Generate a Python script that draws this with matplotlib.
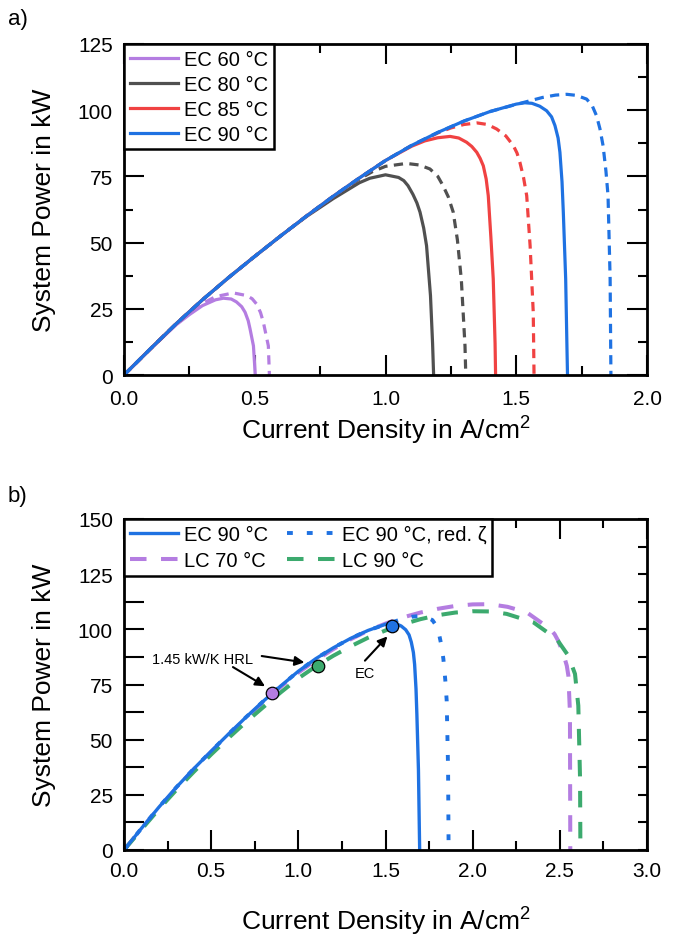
import matplotlib
matplotlib.use("Agg")
import matplotlib.pyplot as plt
from matplotlib.ticker import MultipleLocator

plt.rcParams['font.family'] = ['Liberation Sans', 'DejaVu Sans']
plt.rcParams['mathtext.fontset'] = 'custom'
plt.rcParams['mathtext.rm'] = 'Liberation Sans'
plt.rcParams['mathtext.it'] = 'Liberation Sans:italic'

# ---------------- data: panel a ----------------
ec60_x = [0, 0.1, 0.2, 0.25, 0.3, 0.35, 0.38, 0.41, 0.43, 0.45, 0.463, 0.475, 0.482, 0.495, 0.502]
ec60_y = [0, 9.7, 19.0, 22.8, 26.2, 28.4, 29.0, 28.7, 27.6, 25.8, 23.7, 20.5, 17.4, 11.0, 0]
ec60r_x = [0, 0.1, 0.2, 0.25, 0.3, 0.35, 0.418, 0.469, 0.49, 0.507, 0.522, 0.533, 0.552, 0.556]
ec60r_y = [0, 9.8, 19.3, 23.5, 27.0, 29.6, 31.0, 30.0, 28.8, 26.8, 23.6, 19.9, 11.0, 0]

ec80_x = [0, 0.1, 0.2, 0.3, 0.4, 0.5, 0.6, 0.7, 0.8, 0.9, 0.94, 1.0, 1.05, 1.07, 1.086, 1.105, 1.12, 1.132, 1.146, 1.157, 1.172, 1.18, 1.184]
ec80_y = [0, 9.8, 19.4, 28.4, 36.8, 44.8, 52.6, 60.0, 66.6, 72.6, 74.3, 75.6, 74.6, 73.4, 71.5, 68.2, 65.0, 61.5, 55.5, 48.8, 30.0, 12.0, 0]
ec80r_x = [0, 0.1, 0.2, 0.3, 0.4, 0.5, 0.6, 0.7, 0.8, 0.9, 0.95, 1.0, 1.08, 1.13, 1.17, 1.2, 1.22, 1.24, 1.259, 1.275, 1.29, 1.304, 1.307]
ec80r_y = [0, 9.8, 19.4, 28.4, 36.8, 44.8, 52.6, 60.2, 67.4, 74.0, 76.8, 78.8, 79.9, 79.3, 77.8, 75.0, 71.5, 67.3, 61.5, 51.0, 36.0, 11.0, 0]

ec85_x = [0, 0.1, 0.2, 0.3, 0.4, 0.5, 0.6, 0.7, 0.8, 0.9, 1.0, 1.1, 1.15, 1.2, 1.247, 1.28, 1.31, 1.33, 1.349, 1.362, 1.374, 1.385, 1.393, 1.403, 1.412, 1.419, 1.421]
ec85_y = [0, 9.8, 19.4, 28.4, 36.8, 44.8, 52.6, 60.2, 67.5, 74.4, 81.0, 86.4, 88.4, 89.6, 90.1, 89.5, 87.9, 86.3, 84.1, 81.8, 79.0, 74.0, 67.7, 52.0, 36.3, 12.0, 0]
ec85r_x = [0, 0.1, 0.2, 0.3, 0.4, 0.5, 0.6, 0.7, 0.8, 0.9, 1.0, 1.1, 1.2, 1.25, 1.3, 1.35, 1.39, 1.425, 1.46, 1.489, 1.503, 1.514, 1.528, 1.54, 1.553, 1.565, 1.568]
ec85r_y = [0, 9.8, 19.4, 28.4, 36.8, 44.8, 52.6, 60.2, 67.5, 74.4, 81.0, 86.7, 91.4, 93.3, 94.6, 95.2, 94.6, 92.9, 90.3, 86.6, 83.8, 80.3, 74.5, 67.7, 48.8, 23.7, 0]

ec90_x = [0, 0.1, 0.2, 0.3, 0.4, 0.5, 0.6, 0.7, 0.8, 0.9, 1.0, 1.1, 1.2, 1.3, 1.4, 1.5, 1.533, 1.56, 1.59, 1.616, 1.635, 1.648, 1.66, 1.667, 1.675, 1.68, 1.689, 1.694, 1.696]
ec90_y = [0, 9.8, 19.4, 28.4, 36.8, 44.8, 52.6, 60.2, 67.5, 74.4, 81.0, 86.7, 91.6, 95.9, 99.5, 102.3, 102.8, 102.6, 101.5, 99.8, 97.5, 94.2, 89.5, 84.1, 73.0, 61.4, 36.3, 10.0, 0]
ec90r_x = [0, 0.1, 0.2, 0.3, 0.4, 0.5, 0.6, 0.7, 0.8, 0.9, 1.0, 1.1, 1.2, 1.3, 1.4, 1.5, 1.6, 1.65, 1.693, 1.73, 1.769, 1.79, 1.807, 1.82, 1.832, 1.843, 1.851, 1.859, 1.862]
ec90r_y = [0, 9.8, 19.4, 28.4, 36.8, 44.8, 52.6, 60.2, 67.5, 74.4, 81.0, 86.7, 91.6, 95.9, 99.5, 102.2, 104.8, 105.7, 106.0, 105.6, 104.2, 101.8, 97.9, 93.0, 86.6, 77.0, 67.7, 36.3, 0]

# ---------------- data: panel b ----------------
lc70_x = [0, 0.1, 0.2, 0.3, 0.4, 0.5, 0.6, 0.7, 0.8, 0.9, 1.0, 1.1, 1.2, 1.3, 1.4, 1.5, 1.6, 1.7, 1.8, 1.9, 2.0, 2.1, 2.2, 2.31, 2.444, 2.47, 2.49, 2.52, 2.54, 2.549, 2.558, 2.56]
lc70_y = [0, 9.6, 19.0, 28.0, 36.5, 44.5, 52.2, 59.8, 67.2, 74.0, 80.4, 86.0, 91.0, 95.5, 99.4, 102.6, 105.4, 107.6, 109.3, 110.6, 111.3, 111.4, 110.2, 107.7, 100.2, 97.8, 94.9, 89.0, 83.5, 79.0, 62.4, 0]
lc90_x = [0, 0.1, 0.2, 0.3, 0.4, 0.5, 0.6, 0.7, 0.8, 0.9, 1.0, 1.1, 1.2, 1.3, 1.4, 1.5, 1.6, 1.7, 1.8, 1.9, 2.0, 2.1, 2.195, 2.348, 2.482, 2.549, 2.587, 2.606, 2.616, 2.618]
lc90_y = [0, 9.3, 18.5, 27.2, 35.4, 43.3, 50.8, 58.0, 64.8, 71.5, 77.8, 83.2, 88.0, 92.3, 96.2, 99.5, 102.3, 104.6, 106.4, 107.6, 108.2, 108.1, 107.0, 103.2, 95.6, 88.0, 79.8, 65.4, 32.2, 0]

# marked operating points (current density, power)
pt_lc70 = (0.851, 71.1)
pt_lc90 = (1.111, 83.5)
pt_ec = (1.536, 101.7)

a_xticks = [0.0, 0.5, 1.0, 1.5, 2.0]
a_yticks = [0, 25, 50, 75, 100, 125]
b_xticks = [0.0, 0.5, 1.0, 1.5, 2.0, 2.5, 3.0]
b_yticks = [0, 25, 50, 75, 100, 125, 150]

C_PURPLE = '#B47DE1'
C_GRAY = '#505050'
C_RED = '#F04242'
C_BLUE = '#1F72E2'
C_GREEN = '#3CAA6E'

fig = plt.figure(figsize=(6.73, 9.45), dpi=100)
L, W, H = 124 / 673, 523 / 673, 331 / 945
axa = fig.add_axes([L, 1 - 376 / 945, W, H])
axb = fig.add_axes([L, 1 - 851 / 945, W, H])

TICK_FS = 15
LAB_FS = 19
LEG_FS = 14.5
MAJ = 14.4
MIN = 6.8

def style(ax):
    for s in ax.spines.values():
        s.set_linewidth(2.0)
    ax.tick_params(which='both', direction='in', top=True, right=True, width=1.5,
                   labelsize=TICK_FS)
    ax.tick_params(which='major', length=MAJ)
    ax.tick_params(which='minor', length=MIN)

# ---------- panel a ----------
dash_a = (2.9, 2.0)
lw_a = 2.3
series_a = [(ec60_x, ec60_y, ec60r_x, ec60r_y, C_PURPLE, 'EC 60 °C'),
            (ec80_x, ec80_y, ec80r_x, ec80r_y, C_GRAY, 'EC 80 °C'),
            (ec85_x, ec85_y, ec85r_x, ec85r_y, C_RED, 'EC 85 °C'),
            (ec90_x, ec90_y, ec90r_x, ec90r_y, C_BLUE, 'EC 90 °C')]
handles_a = []
for sx, sy, rx, ry, c, lab in series_a:
    axa.plot(rx, ry, color=c, lw=lw_a, dashes=dash_a)
    h, = axa.plot(sx, sy, color=c, lw=lw_a, label=lab)
    handles_a.append(h)

axa.set_xlim(0, 2.0)
axa.set_ylim(0, 125)
axa.set_xticks(a_xticks)
axa.set_xticklabels([f'{v:.1f}' for v in a_xticks])
axa.set_yticks(a_yticks)
axa.xaxis.set_minor_locator(MultipleLocator(0.25))
axa.yaxis.set_minor_locator(MultipleLocator(12.5))
style(axa)
axa.tick_params(axis='x', which='both', pad=10)
axa.tick_params(axis='y', which='both', pad=8)
axa.set_xlabel(r'Current Density in A/cm$^{\mathregular{2}}$', fontsize=LAB_FS)
axa.set_ylabel('System Power in kW', fontsize=LAB_FS)
axa.xaxis.set_label_coords(0.5, -0.118)
axa.yaxis.set_label_coords(-0.13, 0.5)

lega = axa.legend(handles=handles_a, loc='upper left', bbox_to_anchor=(0, 1),
                  borderaxespad=0, fontsize=LEG_FS, frameon=True, fancybox=False,
                  edgecolor='black', framealpha=1, handlelength=2.4,
                  handletextpad=0.3, labelspacing=0.3, borderpad=0.28)
lega.get_frame().set_linewidth(1.8)

# ---------- panel b ----------
l70, = axb.plot(lc70_x, lc70_y, color=C_PURPLE, lw=2.9, dashes=(4.1, 3.6), label='LC 70 °C')
l90, = axb.plot(lc90_x, lc90_y, color=C_GREEN, lw=2.9, dashes=(4.1, 3.6), label='LC 90 °C')
lr, = axb.plot(ec90r_x, ec90r_y, color=C_BLUE, lw=2.8, dashes=(1.5, 3.6), label='EC 90 °C, red. ζ')
le, = axb.plot(ec90_x, ec90_y, color=C_BLUE, lw=2.4, label='EC 90 °C')

axb.plot([pt_lc70[0]], [pt_lc70[1]], 'o', ms=9, mfc=C_PURPLE, mec='black', mew=0.9, zorder=5)
axb.plot([pt_lc90[0]], [pt_lc90[1]], 'o', ms=9, mfc=C_GREEN, mec='black', mew=0.9, zorder=5)
axb.plot([pt_ec[0]], [pt_ec[1]], 'o', ms=9, mfc=C_BLUE, mec='black', mew=0.9, zorder=5)

arrow = dict(arrowstyle='-|>', color='black', lw=1.5, mutation_scale=14, shrinkA=0, shrinkB=0)
axb.text(0.45, 86.6, '1.45 kW/K HRL', fontsize=10.5, ha='center', va='center')
axb.annotate('', xy=(1.035, 85.0), xytext=(0.79, 87.9), arrowprops=arrow)
axb.annotate('', xy=(0.809, 74.2), xytext=(0.625, 82.9), arrowprops=arrow)
axb.text(1.382, 80.2, 'EC', fontsize=10.5, ha='center', va='center')
axb.annotate('', xy=(1.511, 96.8), xytext=(1.382, 85.8), arrowprops=arrow)

axb.set_xlim(0, 3.0)
axb.set_ylim(0, 150)
axb.set_xticks(b_xticks)
axb.set_xticklabels([f'{v:.1f}' for v in b_xticks])
axb.set_yticks(b_yticks)
axb.xaxis.set_minor_locator(MultipleLocator(0.25))
axb.yaxis.set_minor_locator(MultipleLocator(12.5))
style(axb)
axb.tick_params(axis='x', which='both', pad=8)
axb.tick_params(axis='y', which='both', pad=8)
axb.tick_params(axis='y', which='minor', length=MAJ)

twin = axb.twinx()
twin.set_ylim(0, 150)
twin.set_yticks(b_yticks)
twin.yaxis.set_minor_locator(MultipleLocator(12.5))
twin.tick_params(axis='y', which='both', direction='in', length=MIN, width=1.5,
                 labelright=False, right=True, left=False)
for s in twin.spines.values():
    s.set_visible(False)
axb.tick_params(axis='y', which='both', left=True, right=False)

axb.set_xlabel(r'Current Density in A/cm$^{\mathregular{2}}$', fontsize=LAB_FS)
axb.set_ylabel('System Power in kW', fontsize=LAB_FS)
axb.xaxis.set_label_coords(0.5, -0.165)
axb.yaxis.set_label_coords(-0.13, 0.5)

legb = axb.legend(handles=[le, l70, lr, l90], ncol=2, loc='upper left',
                  bbox_to_anchor=(0, 1), borderaxespad=0, fontsize=LEG_FS, frameon=True,
                  fancybox=False, edgecolor='black', framealpha=1, handlelength=2.4,
                  handletextpad=0.3, labelspacing=0.38, borderpad=0.28, columnspacing=0.95)
legb.get_frame().set_linewidth(1.8)

fig.text(8 / 673, 1 - 20 / 945, 'a)', fontsize=16, ha='left', va='center')
fig.text(8 / 673, 1 - 497 / 945, 'b)', fontsize=16, ha='left', va='center')

fig.savefig('out.png', dpi=100)
